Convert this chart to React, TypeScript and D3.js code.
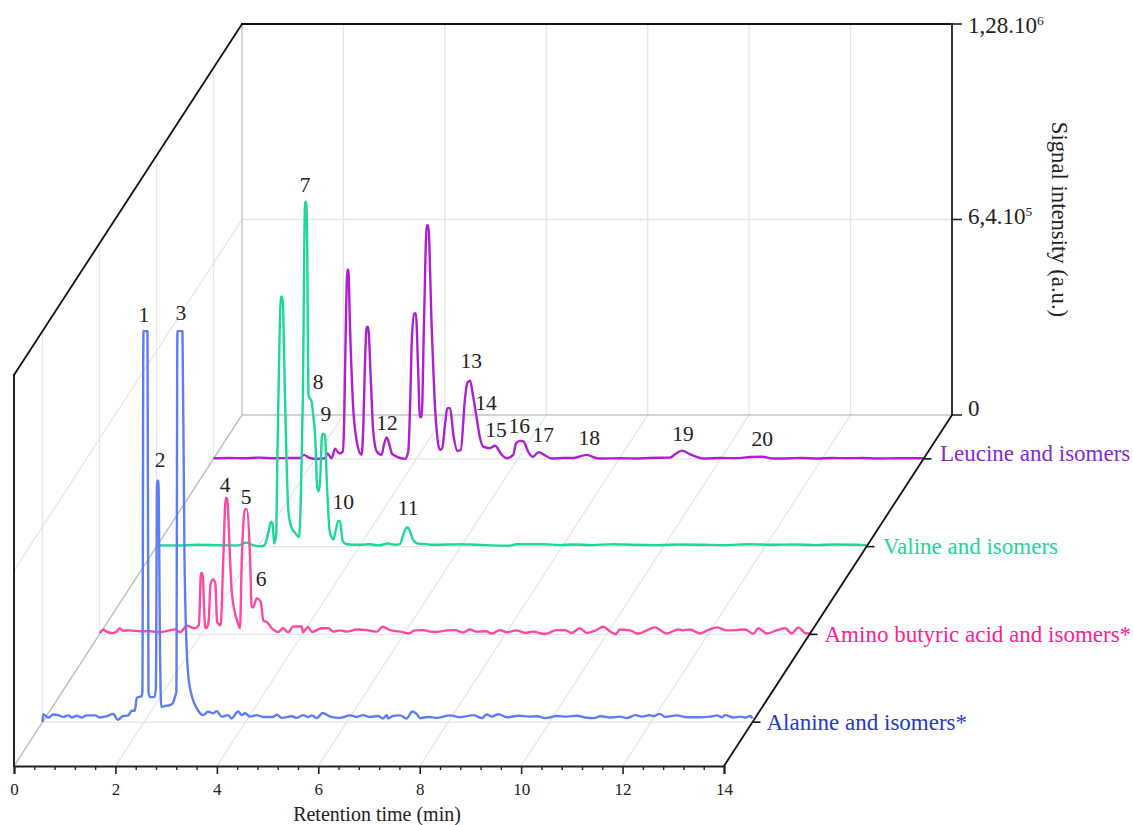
import React, { useEffect, useRef } from "react";
import * as d3 from "d3";

type Pt = [number, number];

// retention time (min), signal (10^3 a.u.)
const alanine: Pt[] = [
  [0, 0], [0.01, 26], [0.115, 15], [0.21, 25], [0.31, 23], [0.41, 17], [0.51, 22], [0.575, 15], [0.675, 21],
  [0.77, 15], [0.87, 22], [1.035, 22], [1.135, 15], [1.265, 19], [1.4, 27], [1.48, 8], [1.59, 20], [1.69, 22],
  [1.76, 37], [1.82, 37], [1.86, 80], [1.955, 85], [1.97, 100], [1.99, 1280], [2.07, 1280], [2.09, 100],
  [2.12, 82], [2.21, 82], [2.235, 110], [2.26, 790], [2.285, 790], [2.32, 200], [2.34, 50], [2.42, 53],
  [2.51, 56], [2.57, 62], [2.61, 82], [2.64, 100], [2.66, 1280], [2.76, 1280], [2.8, 530], [2.87, 160],
  [2.95, 82], [3.04, 46], [3.17, 23], [3.265, 34], [3.37, 29], [3.435, 36], [3.535, 18], [3.66, 23], [3.73, 12],
  [3.855, 35], [3.93, 23], [3.995, 29], [4.09, 18], [4.225, 23], [4.35, 17], [4.545, 17], [4.62, 24], [4.72, 14],
  [4.915, 19], [5.01, 14], [5.14, 23], [5.235, 17], [5.31, 22], [5.41, 13], [5.525, 30], [5.67, 18], [5.87, 14],
  [6.065, 22], [6.195, 17], [6.32, 23], [6.46, 17], [6.62, 20], [6.715, 12], [6.79, 23], [6.815, 12], [6.91, 20],
  [7.05, 22], [7.18, 12], [7.29, 35], [7.38, 26], [7.445, 13], [7.6, 17], [7.775, 14], [8.04, 22], [8.24, 16],
  [8.5, 23], [8.66, 13], [8.76, 25], [8.86, 18], [8.99, 26], [9.16, 16], [9.39, 21], [9.59, 18], [9.75, 19],
  [9.91, 13], [10.14, 20], [10.34, 18], [10.54, 21], [10.7, 15], [10.87, 13], [11.0, 19], [11.2, 15], [11.39, 18],
  [11.52, 13], [11.69, 23], [11.82, 18], [11.97, 23], [12.05, 20], [12.17, 27], [12.28, 17], [12.51, 22], [12.71, 16],
  [12.94, 16], [13.17, 18], [13.3, 22], [13.4, 16], [13.46, 23], [13.63, 15], [13.76, 18], [13.86, 15], [13.96, 20], [14, 12],
];

const aminoButyric: Pt[] = [
  [0.01, 4], [0.07, 15], [0.15, 8], [0.25, 4], [0.345, 10], [0.4, 20], [0.465, 12], [0.6, 13], [0.8, 10], [1.0, 10],
  [1.19, 7], [1.29, 10], [1.49, 16], [1.59, 7], [1.725, 28], [1.88, 20], [1.96, 30], [1.97, 60], [2.0, 200], [2.03, 200],
  [2.08, 30], [2.1, 20], [2.15, 40], [2.19, 165], [2.245, 180], [2.285, 165], [2.32, 40], [2.39, 30], [2.44, 243],
  [2.49, 447], [2.515, 447], [2.575, 243], [2.61, 135], [2.73, 36], [2.77, 20], [2.805, 243], [2.87, 410], [2.9, 410],
  [2.97, 243], [3.0, 89], [3.03, 89], [3.1, 118], [3.18, 106], [3.23, 46], [3.3, 40], [3.4, 20], [3.53, 8], [3.62, 20],
  [3.72, 7], [3.82, 26], [3.99, 26], [4.01, 7], [4.11, 24], [4.19, 8], [4.38, 20], [4.51, 20], [4.61, 9], [4.74, 13],
  [4.88, 9], [5.07, 16], [5.27, 14], [5.47, 9], [5.58, 25], [5.73, 14], [5.93, 9], [6.09, 3], [6.22, 13], [6.39, 14],
  [6.52, 9], [6.65, 8], [6.85, 13], [7.01, 14], [7.17, 6], [7.3, 16], [7.44, 9], [7.63, 10], [7.73, 3], [7.9, 14],
  [8.03, 7], [8.22, 13], [8.39, 5], [8.55, 9], [8.78, 1], [9.01, 14], [9.18, 14], [9.31, 5], [9.47, 20], [9.61, 5],
  [9.8, 14], [9.93, 25], [10.07, 9], [10.18, 1], [10.26, 16], [10.46, 13], [10.62, 2], [10.79, 13], [10.95, 23],
  [11.18, 3], [11.41, 16], [11.51, 13], [11.64, 16], [11.84, 3], [12.0, 14], [12.17, 23], [12.37, 13], [12.56, 14],
  [12.73, 16], [12.89, 2], [12.99, 20], [13.16, 3], [13.35, 13], [13.52, 20], [13.65, 3], [13.78, 23], [13.91, 5], [14, 3],
];

const valine: Pt[] = [
  [0, 5], [0.4, 4], [0.8, 6], [1.2, 5], [1.6, 4], [1.78, 13], [1.88, 6], [2.075, 1], [2.14, 8], [2.205, 46], [2.26, 82],
  [2.29, 74], [2.32, 10], [2.36, 42], [2.38, 260], [2.425, 677], [2.455, 818], [2.485, 818], [2.535, 480], [2.6, 118],
  [2.65, 68], [2.73, 46], [2.81, 32], [2.845, 150], [2.885, 480], [2.93, 1128], [2.955, 1128], [2.975, 934], [2.995, 496],
  [3.06, 474], [3.09, 430], [3.125, 371], [3.17, 194], [3.2, 181], [3.23, 227], [3.26, 359], [3.29, 370], [3.325, 364],
  [3.355, 227], [3.42, 46], [3.49, 24], [3.52, 42], [3.585, 84], [3.62, 82], [3.67, 19], [3.75, 8], [4.01, 6], [4.21, 8],
  [4.37, 4], [4.565, 10], [4.7, 6], [4.8, 8], [4.87, 41], [4.935, 63], [4.965, 61], [5.065, 21], [5.16, 10], [5.33, 8],
  [5.43, 6], [5.985, 8], [6.315, 6], [6.97, 3], [7.1, 8], [7.63, 8], [7.96, 5], [8.2, 7], [8.6, 5], [9.0, 8], [9.4, 6],
  [9.9, 5], [10.3, 7], [10.8, 6], [11.2, 5], [11.7, 8], [12.2, 6], [12.6, 7], [13.0, 5], [13.4, 7], [13.8, 6], [14, 5],
];

const leucine: Pt[] = [
  [0, 2], [0.3, 3], [0.6, 2], [0.9, 4], [1.2, 2], [1.5, 3], [1.705, 3], [1.785, 13], [1.87, 5], [2.0, 0], [2.2, 2],
  [2.245, 18], [2.33, 2], [2.395, 33], [2.48, 18], [2.55, 24], [2.575, 113], [2.61, 442], [2.64, 619], [2.66, 619],
  [2.69, 442], [2.755, 166], [2.825, 57], [2.92, 13], [2.955, 113], [2.99, 331], [3.02, 432], [3.05, 432], [3.1, 265],
  [3.15, 90], [3.22, 24], [3.315, 13], [3.36, 46], [3.415, 70], [3.47, 46], [3.515, 18], [3.645, 5], [3.78, 0], [3.84, 24],
  [3.875, 166], [3.91, 386], [3.955, 476], [3.99, 476], [4.04, 265], [4.07, 137], [4.105, 137], [4.15, 442], [4.205, 764],
  [4.235, 764], [4.3, 442], [4.37, 166], [4.415, 68], [4.465, 29], [4.51, 35], [4.565, 112], [4.61, 166], [4.665, 166],
  [4.73, 79], [4.81, 26], [4.875, 29], [4.96, 199], [5.005, 249], [5.06, 256], [5.115, 210], [5.19, 133], [5.255, 68],
  [5.32, 40], [5.45, 35], [5.55, 43], [5.685, 13], [5.78, 2], [5.91, 13], [5.965, 51], [6.045, 59], [6.11, 57], [6.21, 22],
  [6.295, 7], [6.41, 22], [6.505, 15], [6.67, 1], [6.9, 3], [7.1, 3], [7.36, 13], [7.56, 2], [7.68, 1], [8.0, 2], [8.3, 1],
  [8.6, 3], [9.0, 4], [9.1, 15], [9.235, 27], [9.4, 15], [9.66, 1], [10.0, 3], [10.3, 2], [10.58, 6], [10.81, 7], [11.04, 1],
  [11.4, 2], [11.6, 3], [11.9, 1], [12.2, 3], [12.5, 2], [12.8, 3], [13.1, 1], [13.5, 2], [14, 2],
];

const seriesNames = [
  "Alanine and isomers*",
  "Amino butyric acid and isomers*",
  "Valine and isomers",
  "Leucine and isomers",
];
const seriesTraces = [alanine, aminoButyric, valine, leucine];
const lineColors = ["#5f7cf6", "#ff48a4", "#1ed79c", "#ae1fd3"];
const nameColors = ["#2538c9", "#ff2090", "#1fd69a", "#8a28d8"];

// peak number, series index, time, height of the number above the baseline
const peakLabels: [string, number, number, number][] = [
  ["1", 0, 2.0, 1336], ["2", 0, 2.32, 859], ["3", 0, 2.73, 1342],
  ["4", 1, 2.475, 491], ["5", 1, 2.89, 452], ["6", 1, 3.185, 182],
  ["7", 2, 2.93, 1184], ["8", 2, 3.185, 542], ["9", 2, 3.34, 437], ["10", 2, 3.68, 147], ["11", 2, 4.96, 127],
  ["12", 3, 3.42, 119], ["13", 3, 5.08, 323], ["14", 3, 5.375, 185], ["15", 3, 5.57, 96], ["16", 3, 6.03, 109],
  ["17", 3, 6.5, 80], ["18", 3, 7.41, 70], ["19", 3, 9.26, 83], ["20", 3, 10.82, 67],
];

const xMajor = [0, 2, 4, 6, 8, 10, 12, 14];
const xMinor = [0.4, 0.8, 1.2, 1.6, 2.4, 2.8, 3.2, 3.6, 4.4, 4.8, 5.2, 5.6, 6.4, 6.8, 7.2, 7.6, 8.4, 8.8, 9.2, 9.6, 10.4, 10.8, 11.2, 11.6, 12.4, 12.8, 13.2, 13.6];
const yTicks = [0, 640, 1280];
const yTickText = [["0", ""], ["6,4.10", "5"], ["1,28.10", "6"]];

const SERIF = '"Liberation Serif", serif';

export default function App() {
  const ref = useRef<SVGSVGElement | null>(null);

  useEffect(() => {
    const svg = d3.select(ref.current);
    svg.selectAll("*").remove();

    const origin = { x: 14, y: 766 };
    const depth = { x: 228, y: -351 };

    const x = d3.scaleLinear().domain([0, 14]).range([0, 710]);
    const y = d3.scaleLinear().domain([0, 1280]).range([0, 391]);
    const z = d3.scalePoint<string>().domain(seriesNames).range([0, 1]).padding(0.5);

    // t along the time axis, d = 0 front .. 1 back, v = signal
    const px = (t: number, d: number) => origin.x + x(t) + depth.x * d;
    const py = (d: number, v: number) => origin.y + depth.y * d - y(v);

    const seg = (
      g: any,
      a: [number, number, number],
      b: [number, number, number],
      stroke: string,
      width: number,
    ) =>
      g
        .append("line")
        .attr("x1", px(a[0], a[1]))
        .attr("y1", py(a[1], a[2]))
        .attr("x2", px(b[0], b[1]))
        .attr("y2", py(b[1], b[2]))
        .attr("stroke", stroke)
        .attr("stroke-width", width)
        .attr("stroke-linecap", "square");

    // Grid
    const grid = svg.append("g");
    const gridColor = "#e6e6e6";
    xMajor.slice(1, -1).forEach((t) => {
      seg(grid, [t, 0, 0], [t, 1, 0], gridColor, 1.3);
      seg(grid, [t, 1, 0], [t, 1, 1280], gridColor, 1.3);
    });
    seriesNames.forEach((name) => {
      const d = z(name) as number;
      seg(grid, [0, d, 0], [14, d, 0], gridColor, 1.3);
      seg(grid, [0, d, 0], [0, d, 1280], gridColor, 1.3);
    });
    seg(grid, [0, 0, 640], [0, 1, 640], gridColor, 1.3);
    seg(grid, [0, 1, 640], [14, 1, 640], gridColor, 1.3);
    seg(grid, [0, 0, 0], [0, 1, 0], "#b9b9b9", 1.3);
    seg(grid, [0, 1, 0], [14, 1, 0], "#c4c4c4", 1.6);
    seg(grid, [0, 1, 0], [0, 1, 1280], "#bdbdbd", 1.3);

    // Traces, back to front
    const line = (d: number) =>
      d3
        .line<Pt>()
        .x((p) => px(p[0], d))
        .y((p) => py(d, p[1]))
        .curve(d3.curveMonotoneX);
    d3.range(seriesNames.length - 1, -1, -1).forEach((i) => {
      svg
        .append("path")
        .attr("d", line(z(seriesNames[i]) as number)(seriesTraces[i]))
        .attr("fill", "none")
        .attr("stroke", lineColors[i])
        .attr("stroke-width", 2.4)
        .attr("stroke-linejoin", "round");
    });

    // Frame
    const frame = svg.append("g");
    seg(frame, [0, 0, 0], [0, 0, 1280], "#222", 2);
    seg(frame, [0, 0, 1280], [0, 1, 1280], "#111", 1.8);
    seg(frame, [0, 1, 1280], [14, 1, 1280], "#111", 1.8);
    seg(frame, [14, 1, 0], [14, 1, 1280], "#333", 2);
    seg(frame, [14, 0, 0], [14, 1, 0], "#111", 1.8);

    // Time axis
    const front = svg.append("g").attr("transform", `translate(${origin.x},${origin.y})`);
    const major = front
      .append("g")
      .call(d3.axisBottom(x).tickValues(xMajor).tickSize(8).tickFormat((d) => String(d)));
    major.select(".domain").attr("stroke", "#222").attr("stroke-width", 2);
    major.selectAll("line").attr("stroke", "#222").attr("stroke-width", 1.6);
    major
      .selectAll("text")
      .attr("font-family", SERIF)
      .attr("font-size", 17)
      .attr("fill", "#222")
      .attr("y", 17);
    const minor = front
      .append("g")
      .call(d3.axisBottom(x).tickValues(xMinor).tickSize(4).tickFormat(() => ""));
    minor.select(".domain").remove();
    minor.selectAll("line").attr("stroke", "#222").attr("stroke-width", 1.4);

    svg
      .append("text")
      .attr("x", px(7, 0) + 8)
      .attr("y", 821)
      .attr("text-anchor", "middle")
      .attr("font-family", SERIF)
      .attr("font-size", 20)
      .attr("fill", "#222")
      .text("Retention time (min)");

    // Signal axis
    const yLabelDrop = [1, 4, 9];
    yTicks.forEach((v, i) => {
      const ty = py(1, v);
      svg
        .append("line")
        .attr("x1", px(14, 1))
        .attr("x2", px(14, 1) + 10)
        .attr("y1", ty)
        .attr("y2", ty)
        .attr("stroke", "#222")
        .attr("stroke-width", 1.6);
      const label = svg
        .append("text")
        .attr("x", px(14, 1) + 16)
        .attr("y", ty + yLabelDrop[i])
        .attr("font-family", SERIF)
        .attr("font-size", 23)
        .attr("fill", "#222")
        .text(yTickText[i][0]);
      if (yTickText[i][1]) {
        label
          .append("tspan")
          .attr("dy", -8)
          .attr("font-size", 13.5)
          .text(yTickText[i][1]);
      }
    });

    svg
      .append("text")
      .attr("transform", `translate(${px(14, 1) + 100},219.5) rotate(90)`)
      .attr("text-anchor", "middle")
      .attr("font-family", SERIF)
      .attr("font-size", 22.7)
      .attr("fill", "#222")
      .text("Signal intensity (a.u.)");

    // Series ticks and names
    const nameGap = [14, 15, 16.5, 16.5];
    const nameDrop = [7.5, 7.5, 7.5, 2.5];
    seriesNames.forEach((name, i) => {
      const d = z(name) as number;
      const ex = px(14, d);
      const ey = py(d, 0);
      svg
        .append("line")
        .attr("x1", ex)
        .attr("x2", ex + 8)
        .attr("y1", ey)
        .attr("y2", ey)
        .attr("stroke", "#111")
        .attr("stroke-width", 1.6);
      svg
        .append("text")
        .attr("x", ex + nameGap[i])
        .attr("y", ey + nameDrop[i])
        .attr("font-family", SERIF)
        .attr("font-size", 23)
        .attr("fill", nameColors[i])
        .text(name);
    });

    // Peak numbers
    peakLabels.forEach(([n, s, t, v]) => {
      const d = z(seriesNames[s]) as number;
      svg
        .append("text")
        .attr("x", px(t, d))
        .attr("y", py(d, v))
        .attr("dy", "0.35em")
        .attr("text-anchor", "middle")
        .attr("font-family", SERIF)
        .attr("font-size", 21.5)
        .attr("fill", "#222")
        .text(n);
    });
  }, []);

  return (
    <svg
      ref={ref}
      width={1133}
      height={825}
      style={{ position: "absolute", left: 0, top: 0, background: "#fff" }}
    />
  );
}
